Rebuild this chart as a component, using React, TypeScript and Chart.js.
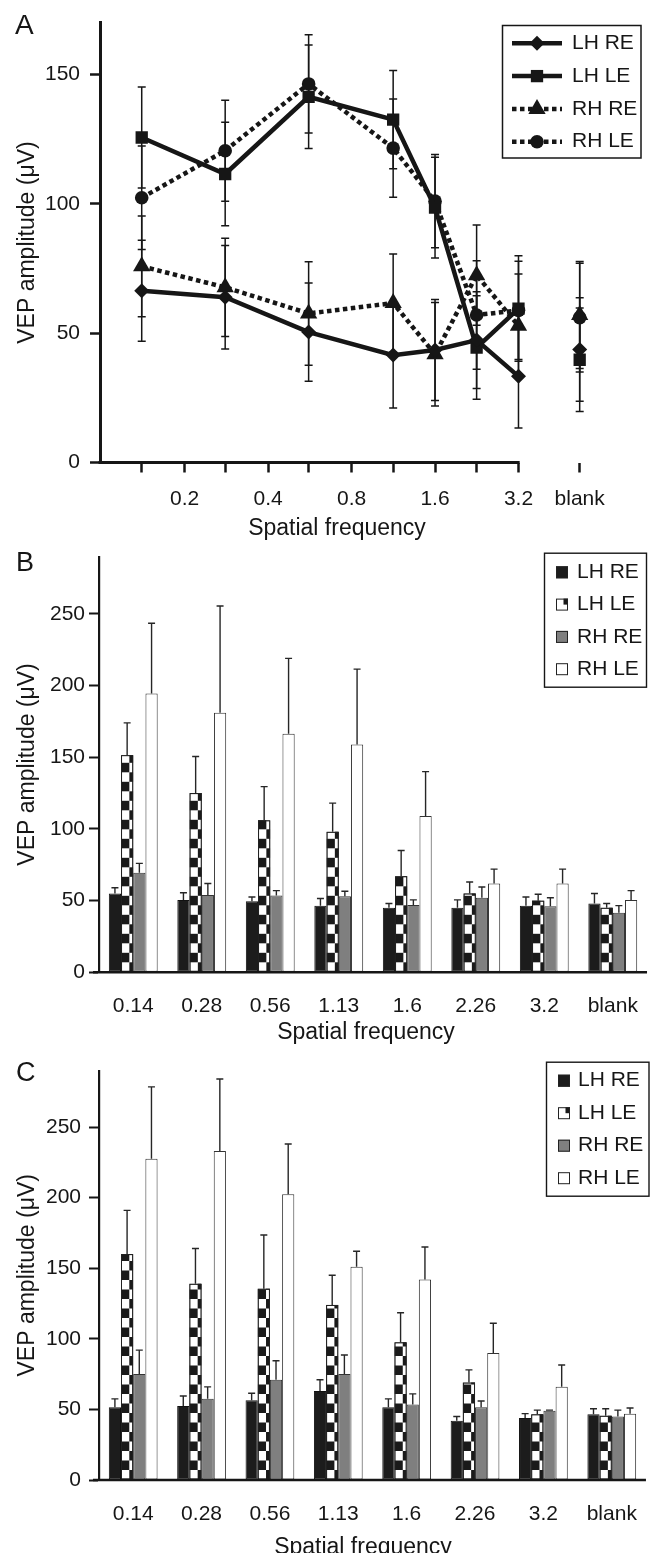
import React, { useEffect, useRef } from 'react';
import { Chart, registerables } from 'chart.js';

Chart.register(...registerables);

const FONT = '"Liberation Sans", Arial, Helvetica, sans-serif';
const INK = '#161616';

const SERIES = ['LH RE', 'LH LE', 'RH RE', 'RH LE'];

// ---------- Panel A (line chart, log spatial frequency axis) ----------
const A_FREQS = [0.14, 0.28, 0.56, 1.13, 1.6, 2.26, 3.2];
const A_BLANK_X = 5.32; // where the "blank" condition sits on the axis
const A_TICKS = [0.14, 0.2, 0.28, 0.4, 0.56, 0.8, 1.13, 1.6, 2.26, 3.2, A_BLANK_X];
const A_TICK_LABELS = ['', '0.2', '', '0.4', '', '0.8', '', '1.6', '', '3.2', 'blank'];
const A_Y_TICKS = [0, 50, 100, 150];
const A_LH_RE = [66.4, 63.9, 50.4, 41.5, 43.5, 47.3, 33.3, 43.7];
const A_LH_RE_SE = [19.5, 20, 19, 20.4, 19.5, 18.7, 20, 20];
const A_LH_LE = [125.6, 111.5, 141.3, 132.5, 98.5, 44.4, 59.5, 39.7];
const A_LH_LE_SE = [19.5, 20, 20, 19, 19.5, 20, 20.4, 20];
const A_RH_RE = [75.8, 67.7, 57.6, 61.6, 41.8, 72.4, 52.8, 57];
const A_RH_RE_SE = [19.5, 19, 20, 19, 20, 19.4, 20, 20.7];
const A_RH_LE = [102.3, 120.5, 146.3, 121.5, 101, 57, 58.8, 56];
const A_RH_LE_SE = [20, 19.5, 19, 19, 18, 21, 19, 21];

// ---------- Panels B and C (bar charts) ----------
const BAR_CATEGORIES = ['0.14', '0.28', '0.56', '1.13', '1.6', '2.26', '3.2', 'blank'];
const BAR_Y_TICKS = [0, 50, 100, 150, 200, 250];

const B_LH_RE = [55, 50.5, 49.5, 46.5, 45, 45, 46.5, 48];
const B_LH_RE_SE = [4, 5, 3, 5, 3, 5.5, 6, 7];
const B_LH_LE = [151.5, 125, 106, 98, 67, 55, 50, 45];
const B_LH_LE_SE = [22.5, 25.5, 23.5, 20, 18, 8, 4.5, 3];
const B_RH_RE = [69.5, 54, 53.5, 53, 47, 52, 46, 41.5];
const B_RH_RE_SE = [6.5, 8, 3.5, 3.5, 3.5, 7.5, 6, 5];
const B_RH_LE = [194.5, 181, 166.5, 159, 109, 62, 62, 50.5];
const B_RH_LE_SE = [49, 74.5, 52.5, 52.5, 31, 10, 10, 6.5];

const C_LH_RE = [51.5, 52.5, 56.5, 63, 51.5, 42, 44, 46.5];
const C_LH_RE_SE = [6, 7, 5, 8, 6, 3, 3, 4];
const C_LH_LE = [160, 139, 135.5, 124, 97.5, 69, 46.5, 45.5];
const C_LH_LE_SE = [31, 25, 38, 21, 21, 9, 3, 5];
const C_RH_RE = [75, 57.5, 71, 75, 53.5, 51.5, 49, 45];
const C_RH_RE_SE = [17, 8.5, 13.5, 13.5, 7.5, 4.5, 0.5, 4.5];
const C_RH_LE = [227.5, 233, 202.5, 151, 142, 90, 66, 47];
const C_RH_LE_SE = [51, 51, 35.5, 11, 23, 21, 15.5, 4];

const Y_TITLE = 'VEP amplitude (\u03bcV)';
const X_TITLE = 'Spatial frequency';

// ---------- drawing helpers ----------
function text(ctx: any, s: string, x: number, y: number, size: number, align = 'center', rot = 0) {
  ctx.save();
  ctx.font = `${size}px ${FONT}`;
  ctx.fillStyle = INK;
  ctx.textAlign = align;
  ctx.textBaseline = 'middle';
  ctx.translate(x, y);
  if (rot) ctx.rotate(rot);
  ctx.fillText(s, 0, 0);
  ctx.restore();
}

function marker(ctx: any, style: string, x: number, y: number, r: number) {
  ctx.save();
  ctx.fillStyle = INK;
  ctx.beginPath();
  if (style === 'rectRot') {
    ctx.moveTo(x, y - r); ctx.lineTo(x + r, y); ctx.lineTo(x, y + r); ctx.lineTo(x - r, y);
    ctx.closePath();
  } else if (style === 'rect') {
    const s = r * Math.SQRT1_2;
    ctx.rect(x - s, y - s, 2 * s, 2 * s);
  } else if (style === 'triangle') {
    for (let k = 0; k < 3; k++) {
      const a = (k * 2 * Math.PI) / 3;
      const px = x + Math.sin(a) * r, py = y - Math.cos(a) * r;
      if (k === 0) ctx.moveTo(px, py); else ctx.lineTo(px, py);
    }
    ctx.closePath();
  } else {
    ctx.arc(x, y, r, 0, Math.PI * 2);
  }
  ctx.fill();
  ctx.restore();
}

// ---------- Panel A ----------
const A_STYLE = [
  { pt: 'rectRot', r: 7.5, dash: [] as number[] },
  { pt: 'rect', r: 8.7, dash: [] as number[] },
  { pt: 'triangle', r: 10, dash: [4.5, 3.5] },
  { pt: 'circle', r: 6.8, dash: [4.5, 3.5] },
];

function makeA(canvas: HTMLCanvasElement) {
  const xs = [...A_FREQS, A_BLANK_X];
  const vals = [A_LH_RE, A_LH_LE, A_RH_RE, A_RH_LE];
  const errs = [A_LH_RE_SE, A_LH_LE_SE, A_RH_RE_SE, A_RH_LE_SE];
  const lastIdx = xs.length - 1;
  const datasets = SERIES.map((name, s) => ({
    label: name,
    data: vals[s].map((y, i) => ({ x: xs[i], y })),
    errors: errs[s],
    borderColor: INK,
    backgroundColor: INK,
    borderWidth: 4.5,
    borderDash: A_STYLE[s].dash,
    borderCapStyle: 'butt',
    tension: 0,
    pointStyle: A_STYLE[s].pt,
    pointRadius: A_STYLE[s].r,
    pointBorderWidth: 0,
    pointBackgroundColor: INK,
    segment: {
      borderColor: (c: any) => (c.p1DataIndex === lastIdx ? 'rgba(0,0,0,0)' : undefined),
    },
  }));

  const decor = {
    id: 'decorA',
    beforeDatasetsDraw(chart: any) {
      const ctx = chart.ctx;
      const y = chart.scales.y;
      ctx.save();
      ctx.strokeStyle = INK;
      ctx.lineWidth = 1.5;
      chart.data.datasets.forEach((ds: any, di: number) => {
        const meta = chart.getDatasetMeta(di);
        meta.data.forEach((el: any, i: number) => {
          const v = ds.data[i].y, e = ds.errors[i];
          const t = y.getPixelForValue(v + e), b = y.getPixelForValue(v - e);
          ctx.beginPath();
          ctx.moveTo(el.x, t); ctx.lineTo(el.x, b);
          ctx.moveTo(el.x - 4, t); ctx.lineTo(el.x + 4, t);
          ctx.moveTo(el.x - 4, b); ctx.lineTo(el.x + 4, b);
          ctx.stroke();
        });
      });
      ctx.restore();
    },
    afterDraw(chart: any) {
      const ctx = chart.ctx;
      const ca = chart.chartArea;
      const xEnd = chart.scales.x.getPixelForValue(A_FREQS[A_FREQS.length - 1]);
      ctx.save();
      ctx.strokeStyle = INK;
      ctx.lineWidth = 3;
      ctx.beginPath();
      ctx.moveTo(ca.left - 1.5, ca.bottom);
      ctx.lineTo(xEnd + 1.2, ca.bottom);
      ctx.stroke();
      ctx.restore();

      text(ctx, 'A', 15, 26, 28, 'left');
      text(ctx, Y_TITLE, 28, (ca.top + ca.bottom) / 2, 23, 'center', -Math.PI / 2);
      text(ctx, X_TITLE, 337, 529, 23);

      // legend
      ctx.save();
      ctx.strokeStyle = INK;
      ctx.lineWidth = 1.5;
      ctx.strokeRect(502.5, 25.5, 138.5, 132.5);
      SERIES.forEach((name, s) => {
        const ry = 43.3 + s * 32.8;
        ctx.save();
        ctx.strokeStyle = INK;
        ctx.lineWidth = 4.5;
        ctx.lineCap = 'butt';
        ctx.setLineDash(A_STYLE[s].dash);
        ctx.beginPath();
        ctx.moveTo(512, ry); ctx.lineTo(562, ry);
        ctx.stroke();
        ctx.restore();
        marker(ctx, A_STYLE[s].pt, 537, ry, A_STYLE[s].r);
        text(ctx, name, 572, ry, 21, 'left');
      });
      ctx.restore();
    },
  };

  return new Chart(canvas, {
    type: 'line',
    data: { datasets } as any,
    options: {
      responsive: false,
      animation: false,
      layout: { padding: { left: 0, top: 12.5, right: 40, bottom: 0 }, autoPadding: false },
      plugins: { legend: { display: false }, tooltip: { enabled: false } },
      scales: {
        x: {
          type: 'logarithmic',
          min: 0.099,
          max: 6.9,
          afterBuildTicks: (s: any) => { s.ticks = A_TICKS.map((v) => ({ value: v })); },
          afterFit: (s: any) => { s.height = 82.5; },
          ticks: {
            autoSkip: false, maxRotation: 0, minRotation: 0, padding: 14,
            font: { family: FONT, size: 21 }, color: INK,
            callback: (_v: any, i: number) => A_TICK_LABELS[i],
          },
          grid: { display: true, drawOnChartArea: false, drawTicks: true, tickLength: 10, tickWidth: 2.5, tickColor: INK },
          border: { display: false },
        },
        y: {
          type: 'linear',
          min: 0,
          max: 170,
          afterBuildTicks: (s: any) => { s.ticks = A_Y_TICKS.map((v) => ({ value: v })); },
          afterFit: (s: any) => { s.width = 100; },
          ticks: { padding: 10, font: { family: FONT, size: 21 }, color: INK },
          grid: { display: true, drawOnChartArea: false, drawTicks: true, tickLength: 10, tickWidth: 2.5, tickColor: INK },
          border: { display: true, width: 3, color: INK },
        },
      },
    } as any,
    plugins: [decor as any],
  });
}

// ---------- Panels B / C ----------
const BAR_FILL = ['#1c1c1c', '#ffffff', '#7f7f7f', '#ffffff'];
const BAR_EDGE = ['#111111', '#222222', '#333333', '#333333'];

function makeBars(canvas: HTMLCanvasElement, p: any) {
  const datasets = SERIES.map((name, s) => ({
    label: name,
    data: p.vals[s],
    errors: p.errs[s],
    backgroundColor: BAR_FILL[s],
    borderColor: BAR_EDGE[s],
    borderWidth: 1,
    borderSkipped: false,
    categoryPercentage: 0.713,
    barPercentage: 1,
  }));

  const SQ = 9.5;
  const decor = {
    id: 'decorBars',
    afterDatasetDraw(chart: any, args: any) {
      if (args.index !== 1) return;
      const ctx = chart.ctx;
      args.meta.data.forEach((bar: any) => {
        const { x, y, base, width } = bar.getProps(['x', 'y', 'base', 'width'], true);
        const left = x - width / 2, right = x + width / 2;
        const split = left + width * 0.68;
        ctx.save();
        ctx.beginPath();
        ctx.rect(left, y, width, base - y);
        ctx.clip();
        ctx.fillStyle = '#1a1a1a';
        let k = 0;
        for (let yy = base; yy > y - SQ; yy -= SQ, k++) {
          if (k % 2 === 0) ctx.fillRect(split, yy - SQ, right - split, SQ);
          else ctx.fillRect(left, yy - SQ, split - left, SQ);
        }
        ctx.restore();
        ctx.save();
        ctx.strokeStyle = '#222';
        ctx.lineWidth = 1;
        ctx.strokeRect(left + 0.5, y + 0.5, width - 1, base - y - 1);
        ctx.restore();
      });
    },
    afterDatasetsDraw(chart: any) {
      const ctx = chart.ctx;
      const ys = chart.scales.y;
      ctx.save();
      ctx.strokeStyle = '#262626';
      ctx.lineWidth = 1.4;
      chart.data.datasets.forEach((ds: any, di: number) => {
        chart.getDatasetMeta(di).data.forEach((el: any, i: number) => {
          const top = el.y;
          const cap = ys.getPixelForValue(ds.data[i] + ds.errors[i]);
          ctx.beginPath();
          ctx.moveTo(el.x, top); ctx.lineTo(el.x, cap);
          ctx.moveTo(el.x - 3.5, cap); ctx.lineTo(el.x + 3.5, cap);
          ctx.stroke();
        });
      });
      ctx.restore();
    },
    afterDraw(chart: any) {
      const ctx = chart.ctx;
      const ca = chart.chartArea;
      ctx.save();
      ctx.strokeStyle = INK;
      ctx.lineWidth = 2.5;
      ctx.beginPath();
      ctx.moveTo(ca.left - 6, ca.bottom);
      ctx.lineTo(ca.right, ca.bottom);
      ctx.stroke();
      ctx.restore();

      text(ctx, p.letter, 16, 24, 27, 'left');
      text(ctx, Y_TITLE, 28, (ca.top + ca.bottom) / 2, 23, 'center', -Math.PI / 2);
      text(ctx, X_TITLE, p.xTitle[0], p.xTitle[1], 23);

      const L = p.legend;
      ctx.save();
      ctx.strokeStyle = INK;
      ctx.lineWidth = 1.4;
      ctx.strokeRect(L.x0 + 0.5, L.y0 + 0.5, L.x1 - L.x0, L.y1 - L.y0);
      SERIES.forEach((name, s) => {
        const ry = L.row0 + s * L.step;
        const sx = L.sx, sy = ry - 6;
        ctx.fillStyle = BAR_FILL[s];
        ctx.fillRect(sx, sy, 12, 12);
        if (s === 1) {
          ctx.fillStyle = '#1a1a1a';
          ctx.fillRect(sx + 7.5, sy, 4.5, 6);
        }
        ctx.strokeStyle = '#222';
        ctx.lineWidth = 1;
        ctx.strokeRect(sx + 0.5, sy + 0.5, 11, 11);
        text(ctx, name, L.tx, ry, 21, 'left');
      });
      ctx.restore();
    },
  };

  return new Chart(canvas, {
    type: 'bar',
    data: { labels: BAR_CATEGORIES, datasets } as any,
    options: {
      responsive: false,
      animation: false,
      layout: { padding: { left: 0, top: p.padTop, right: 2, bottom: 0 }, autoPadding: false },
      plugins: { legend: { display: false }, tooltip: { enabled: false } },
      scales: {
        x: {
          type: 'category',
          afterFit: (s: any) => { s.height = p.xHeight; },
          ticks: { autoSkip: false, maxRotation: 0, minRotation: 0, padding: p.xPad, font: { family: FONT, size: 21 }, color: INK },
          grid: { display: false },
          border: { display: false },
        },
        y: {
          type: 'linear',
          min: 0,
          max: 290,
          afterBuildTicks: (s: any) => { s.ticks = BAR_Y_TICKS.map((v) => ({ value: v })); },
          afterFit: (s: any) => { s.width = 99; },
          ticks: { padding: p.yPad, font: { family: FONT, size: 21 }, color: INK },
          grid: { display: true, drawOnChartArea: false, drawTicks: true, tickLength: 10, tickWidth: 2, tickColor: INK },
          border: { display: true, width: 2.2, color: INK },
        },
      },
    } as any,
    plugins: [decor as any],
  });
}

const makeB = (c: HTMLCanvasElement) =>
  makeBars(c, {
    letter: 'B',
    vals: [B_LH_RE, B_LH_LE, B_RH_RE, B_RH_LE],
    errs: [B_LH_RE_SE, B_LH_LE_SE, B_RH_RE_SE, B_RH_LE_SE],
    padTop: 13,
    xHeight: 77.7,
    xPad: 13,
    yPad: 4,
    xTitle: [366, 493],
    legend: { x0: 544, y0: 12.7, x1: 646, y1: 146.7, row0: 32.3, step: 32.3, sx: 556, tx: 577 },
  });

const makeC = (c: HTMLCanvasElement) =>
  makeBars(c, {
    letter: 'C',
    vals: [C_LH_RE, C_LH_LE, C_RH_RE, C_RH_LE],
    errs: [C_LH_RE_SE, C_LH_LE_SE, C_RH_RE_SE, C_RH_LE_SE],
    padTop: 13.3,
    xHeight: 73,
    xPad: 14,
    yPad: 8,
    xTitle: [363, 498],
    legend: { x0: 546, y0: 11.7, x1: 648.5, y1: 145.7, row0: 30.7, step: 32.5, sx: 558, tx: 578 },
  });

function Panel({ make, top, height }: { make: (c: HTMLCanvasElement) => Chart; top: number; height: number }) {
  const ref = useRef<HTMLCanvasElement | null>(null);
  useEffect(() => {
    const chart = make(ref.current as HTMLCanvasElement);
    return () => chart.destroy();
  }, [make]);
  return (
    <canvas
      ref={ref}
      width={651}
      height={height}
      style={{ position: 'absolute', left: 0, top, width: 651, height, display: 'block' }}
    />
  );
}

export default function App() {
  return (
    <div style={{ position: 'absolute', left: 0, top: 0, width: 651, height: 1553, background: '#fff', overflow: 'hidden' }}>
      <Panel make={makeA} top={0} height={545} />
      <Panel make={makeB} top={540} height={510} />
      <Panel make={makeC} top={1050} height={503} />
    </div>
  );
}
